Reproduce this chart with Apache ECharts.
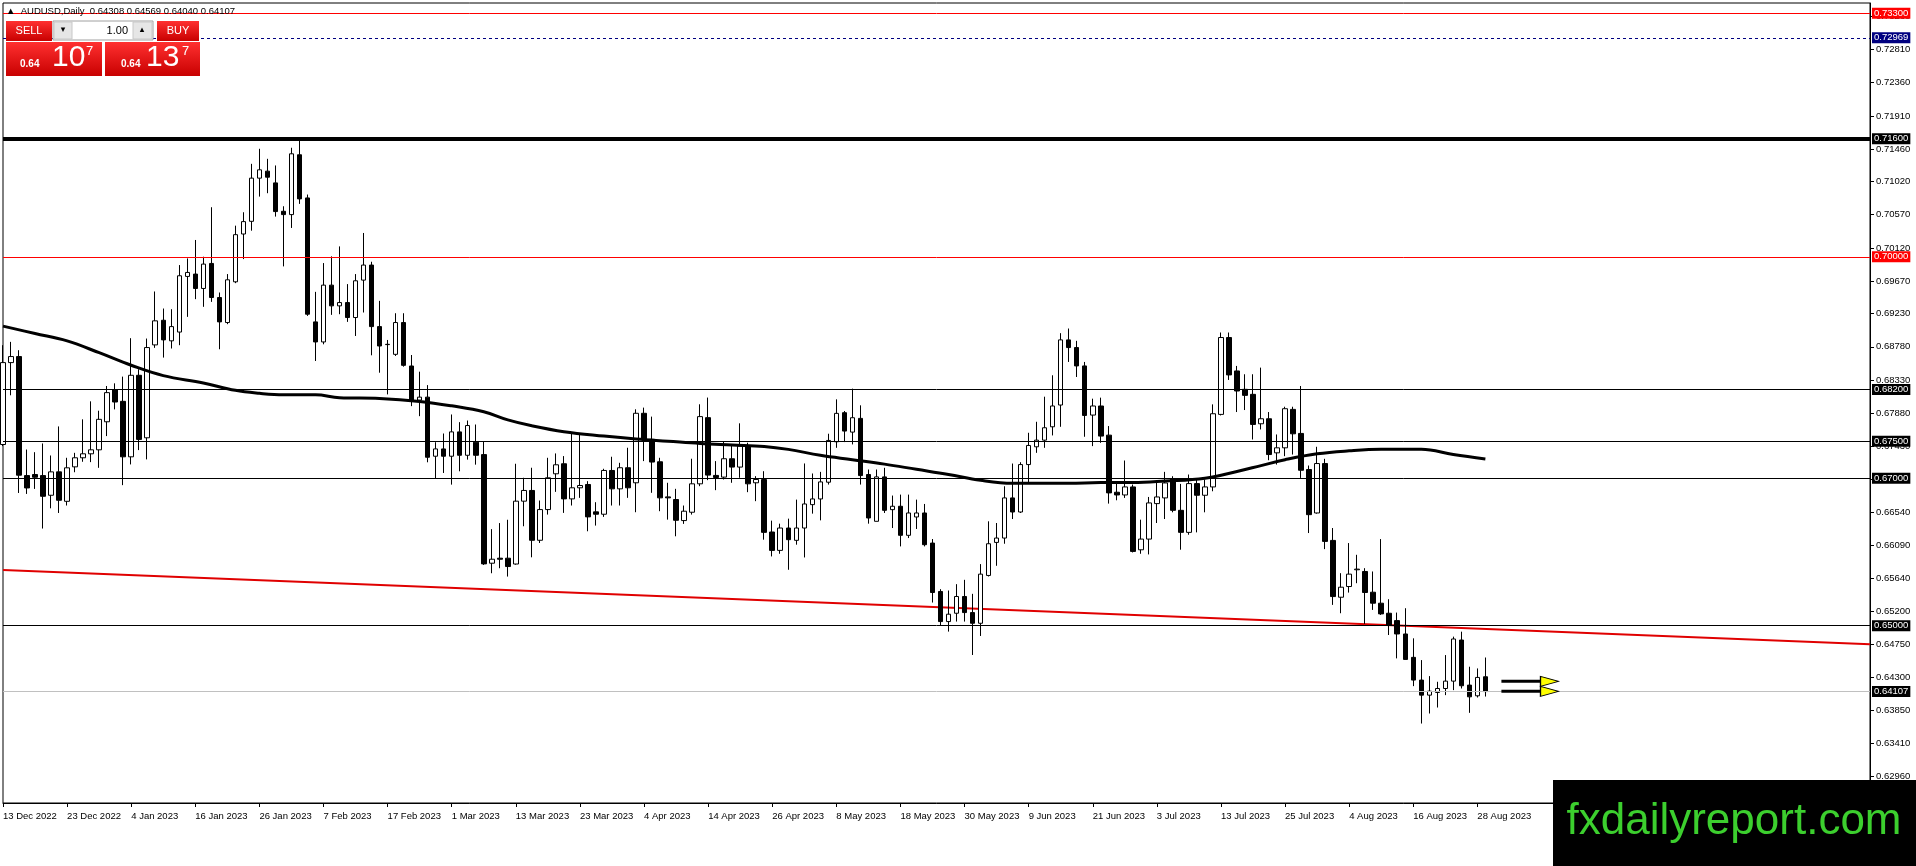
<!DOCTYPE html>
<html><head><meta charset="utf-8">
<script src="https://cdn.jsdelivr.net/npm/echarts@6/dist/echarts.min.js"></script>
<style>html,body{margin:0;padding:0;background:#fff}#c{width:1916px;height:866px}</style>
</head><body><div id="c"></div>
<script>
// ---- DATA ----
const symbolName = 'AUDUSD,Daily';
const firstDate = '2022-12-13';
const barCount = 186;
const totalSlots = 234;
const opens = [0.67456,0.68566,0.68648,0.67035,0.67049,0.67035,0.66768,0.67085,0.66686,0.67153,0.67276,0.67330,0.67384,0.67764,0.68195,0.68041,0.67289,0.68394,0.67547,0.68806,0.69140,0.68861,0.68980,0.69734,0.69766,0.69571,0.69910,0.69448,0.69109,0.69661,0.70309,0.70481,0.71066,0.71161,0.71002,0.70617,0.70572,0.71383,0.70798,0.69118,0.68846,0.69616,0.69335,0.69380,0.69177,0.69684,0.69888,0.69054,0.68814,0.68678,0.69109,0.68520,0.68058,0.68098,0.67297,0.67396,0.67297,0.67627,0.67310,0.67487,0.67319,0.65847,0.65915,0.65915,0.65836,0.66688,0.66833,0.66158,0.66574,0.67059,0.67195,0.66719,0.66869,0.66914,0.66543,0.66511,0.67104,0.66855,0.67141,0.66937,0.67879,0.67526,0.67222,0.66746,0.66710,0.66425,0.66538,0.66923,0.67820,0.67037,0.67014,0.67263,0.67150,0.67435,0.66937,0.66981,0.66270,0.66021,0.66324,0.66157,0.66324,0.66641,0.66718,0.66945,0.67493,0.67887,0.67624,0.67810,0.67049,0.66415,0.67017,0.66573,0.66619,0.66225,0.66474,0.66528,0.66120,0.65464,0.65056,0.65169,0.65396,0.65178,0.65033,0.65681,0.66129,0.66188,0.66732,0.66541,0.67184,0.67425,0.67515,0.67696,0.67991,0.68874,0.68770,0.68521,0.67855,0.67978,0.67583,0.66809,0.66772,0.66881,0.66029,0.66174,0.66655,0.66732,0.66990,0.66564,0.66265,0.66926,0.66768,0.66881,0.67864,0.68906,0.68453,0.68204,0.68136,0.67737,0.67805,0.67343,0.67411,0.67932,0.67606,0.67117,0.66528,0.67198,0.66156,0.65386,0.65531,0.65758,0.65735,0.65454,0.65305,0.65169,0.65069,0.64888,0.64571,0.64263,0.64059,0.64095,0.64149,0.64249,0.64806,0.64195,0.64050,0.64308];
const closes = [0.68566,0.68648,0.67040,0.66867,0.67012,0.66754,0.67085,0.66700,0.67140,0.67276,0.67330,0.67384,0.67797,0.68159,0.68032,0.67289,0.68394,0.67525,0.68770,0.69132,0.68874,0.69054,0.69743,0.69788,0.69571,0.69901,0.69448,0.69118,0.69688,0.70300,0.70477,0.71066,0.71179,0.71079,0.70613,0.70572,0.71396,0.70785,0.69222,0.68846,0.69616,0.69335,0.69380,0.69177,0.69675,0.69888,0.69054,0.68791,0.68810,0.69109,0.68529,0.68044,0.68098,0.67283,0.67396,0.67297,0.67627,0.67310,0.67713,0.67310,0.65838,0.65901,0.65901,0.65802,0.66688,0.66833,0.66158,0.66574,0.67005,0.67181,0.66719,0.66869,0.66900,0.66475,0.66511,0.67104,0.66855,0.67141,0.66869,0.67879,0.67526,0.67218,0.66733,0.66733,0.66429,0.66552,0.66923,0.67834,0.67041,0.67009,0.67263,0.67150,0.67435,0.66923,0.66982,0.66265,0.66021,0.66324,0.66166,0.66324,0.66650,0.66718,0.66949,0.67511,0.67878,0.67638,0.67819,0.67035,0.66460,0.67017,0.66564,0.66619,0.66225,0.66528,0.66528,0.66098,0.65450,0.65056,0.65156,0.65396,0.65178,0.65033,0.65699,0.66111,0.66188,0.66732,0.66541,0.67184,0.67443,0.67515,0.67683,0.67978,0.68874,0.68770,0.68521,0.67850,0.67978,0.67570,0.66800,0.66772,0.66881,0.66007,0.66174,0.66664,0.66745,0.66935,0.66564,0.66265,0.66926,0.66768,0.66881,0.67873,0.68906,0.68399,0.68181,0.68122,0.67728,0.67805,0.67320,0.67411,0.67941,0.67601,0.67107,0.66505,0.67198,0.66143,0.65395,0.65522,0.65699,0.65767,0.65450,0.65305,0.65160,0.65010,0.64888,0.64543,0.64263,0.64059,0.64113,0.64149,0.64249,0.64820,0.64186,0.64036,0.64299,0.64107];
const lows = [0.67434,0.68123,0.66799,0.66786,0.66854,0.66317,0.66591,0.66528,0.66629,0.67080,0.67222,0.67217,0.67140,0.67570,0.67932,0.66905,0.67186,0.67380,0.67254,0.68766,0.68634,0.68757,0.68802,0.69186,0.69426,0.69322,0.69389,0.68747,0.69087,0.69643,0.69969,0.70354,0.70816,0.70862,0.70545,0.69870,0.70391,0.70717,0.69199,0.68588,0.68814,0.69213,0.69222,0.69118,0.68927,0.69245,0.68665,0.68429,0.68135,0.68656,0.68511,0.67976,0.67840,0.67215,0.67002,0.67070,0.66912,0.67093,0.67251,0.67183,0.65824,0.65711,0.65779,0.65666,0.65827,0.66348,0.65927,0.66121,0.66506,0.66814,0.66529,0.66629,0.66733,0.66280,0.66357,0.66475,0.66629,0.66629,0.66733,0.66538,0.67231,0.66801,0.66552,0.66438,0.66212,0.66380,0.66506,0.66891,0.66973,0.66837,0.66982,0.66937,0.67005,0.66810,0.66688,0.66166,0.65939,0.65975,0.65758,0.66098,0.65925,0.66519,0.66428,0.66913,0.67411,0.67489,0.67457,0.66913,0.66383,0.66415,0.66528,0.66324,0.66075,0.66188,0.66311,0.66075,0.65314,0.64997,0.64920,0.65056,0.65056,0.64603,0.64861,0.65667,0.65812,0.66111,0.66446,0.66528,0.66935,0.67343,0.67411,0.67579,0.67696,0.68575,0.68371,0.67561,0.67434,0.67479,0.66655,0.66700,0.66732,0.65993,0.65975,0.65966,0.66392,0.66446,0.66537,0.66030,0.66233,0.66265,0.66537,0.66822,0.67850,0.68331,0.67896,0.67923,0.67524,0.67660,0.67243,0.67184,0.67298,0.67320,0.67003,0.66256,0.66519,0.66038,0.65282,0.65169,0.65449,0.65576,0.65024,0.65214,0.65146,0.64874,0.64557,0.64543,0.64181,0.63674,0.63810,0.63891,0.64059,0.64127,0.64149,0.63819,0.64027,0.64040];
const highs = [0.68802,0.68847,0.68734,0.67388,0.67352,0.67470,0.67307,0.67701,0.67276,0.67343,0.67797,0.68041,0.67914,0.68249,0.68285,0.68376,0.68897,0.68476,0.68892,0.69530,0.69299,0.69290,0.69888,0.69978,0.70228,0.70001,0.70672,0.69516,0.69766,0.70422,0.70604,0.71260,0.71464,0.71328,0.71238,0.70685,0.71478,0.71600,0.70844,0.69525,0.69915,0.70006,0.70141,0.69630,0.69766,0.70323,0.69933,0.69403,0.68873,0.69235,0.69235,0.68669,0.68443,0.68261,0.67487,0.67605,0.67863,0.67759,0.67781,0.67727,0.67500,0.66309,0.66391,0.66436,0.67195,0.67005,0.67141,0.66697,0.67276,0.67335,0.67299,0.67616,0.67594,0.66959,0.66674,0.67127,0.67290,0.67208,0.67412,0.67933,0.67956,0.67834,0.67276,0.66937,0.66855,0.66629,0.67263,0.68001,0.68092,0.67231,0.67503,0.67458,0.67743,0.67480,0.67027,0.67094,0.66424,0.66383,0.66451,0.66709,0.67199,0.67063,0.67085,0.67602,0.68068,0.67910,0.68213,0.67987,0.67117,0.67117,0.67140,0.66764,0.66777,0.66777,0.66709,0.66650,0.66175,0.65495,0.65477,0.65563,0.65622,0.65432,0.65835,0.66415,0.66392,0.66890,0.67198,0.67216,0.67615,0.67764,0.68104,0.68394,0.68965,0.69028,0.68861,0.68575,0.68077,0.68091,0.67706,0.66958,0.67239,0.66913,0.66437,0.66745,0.66935,0.67085,0.67026,0.66922,0.67049,0.66981,0.66981,0.68000,0.68974,0.68974,0.68521,0.68408,0.68408,0.68498,0.67896,0.67592,0.67968,0.67968,0.68249,0.67171,0.67425,0.67262,0.66324,0.65712,0.66120,0.65961,0.65780,0.65735,0.66174,0.65359,0.65178,0.65237,0.64829,0.64534,0.64317,0.64240,0.64602,0.64852,0.64919,0.64444,0.64421,0.64569];
// moving average read at sample bars
const maBars = [0,4,8,12,16,20,25,29,32,35,39,42,47,52,56,60,63,66,70,75,79,83,87,91,95,98,102,106,110,114,118,122,126,129,133,137,141,145,150,154,157,160,164,168,172,177,181,185];
const maValues = [0.6906,0.6896,0.6886,0.6870,0.6853,0.6839,0.6829,0.6819,0.6815,0.6813,0.6813,0.6809,0.6808,0.6804,0.6798,0.6790,0.6779,0.6771,0.6763,0.6757,0.6753,0.6750,0.6747,0.6745,0.6743,0.6739,0.6731,0.6725,0.6719,0.6712,0.6705,0.6697,0.6693,0.6693,0.6693,0.6694,0.6694,0.6696,0.6700,0.6709,0.6717,0.6725,0.6733,0.6737,0.6739,0.6739,0.6732,0.6726];
// red trend line
const trendBars = [0, 233];
const trendValues = [0.65755, 0.64748];
// horizontal levels
const levelPrices = [0.73300, 0.72969, 0.71600, 0.70000, 0.68200, 0.67500, 0.67000, 0.65000, 0.64107];
const levelKinds  = ['red','navy','thick','red','black','black','black','black','bid'];
// price scale tick labels
const priceTicks = [0.73260,0.72810,0.72360,0.71910,0.71460,0.71020,0.70570,0.70120,0.69670,0.69230,0.68780,0.68330,0.67880,0.67430,0.66980,0.66540,0.66090,0.65640,0.65200,0.64750,0.64300,0.63850,0.63410,0.62960];
// arrows
const arrowPrices = [0.64246, 0.64111];
const arrowFromBar = 187, arrowToBar = 193;
const bidPrice = 0.64107, askPrice = 0.64137, lotSize = '1.00';
const yMin = 0.62597, yMax = 0.73440;

// ---- BUILD ----
const MONTHS = ['Jan','Feb','Mar','Apr','May','Jun','Jul','Aug','Sep','Oct','Nov','Dec'];
const dates = [];
(function(){ const d = new Date(firstDate + 'T00:00:00Z');
  while (dates.length < totalSlots) { const w = d.getUTCDay();
    if (w !== 0 && w !== 6) dates.push(d.getUTCDate() + ' ' + MONTHS[d.getUTCMonth()] + ' ' + d.getUTCFullYear());
    d.setUTCDate(d.getUTCDate() + 1); } })();
const candles = opens.map((o, i) => [o, closes[i], lows[i], highs[i]]);
const FONT = 'Liberation Sans, Arial, sans-serif';
const kindStyle = {
  red:   {line:{color:'#ff0000', width:1, type:'solid'}, bg:'#ff0000'},
  navy:  {line:{color:'#000080', width:1, type:[3,3]}, bg:'#000080'},
  thick: {line:{color:'#000000', width:4, type:'solid'}, bg:'#000000'},
  black: {line:{color:'#000000', width:1, type:'solid'}, bg:'#000000'},
  bid:   {line:{color:'#c0c0c0', width:1, type:'solid'}, bg:'#000000'}
};
const markData = levelPrices.map((p, i) => ({
  yAxis: p,
  lineStyle: kindStyle[levelKinds[i]].line,
  label: {show:true, position:'end', distance:2, formatter: p.toFixed(5), color:'#fff',
          backgroundColor: kindStyle[levelKinds[i]].bg, padding:[1,2,0,2], fontSize:9.5, fontFamily:FONT}
}));
const showLabel = (i) => i % 8 === 0 && i < barCount;
const last = barCount - 1;
const headerText = '▲  ' + symbolName + '  ' + [opens[last], highs[last], lows[last], closes[last]].map(v => v.toFixed(5)).join(' ');
function splitPrice(p){ const s = p.toFixed(5); return {big:s.slice(0,4), mid:s.slice(4,6), pip:s.slice(6)}; }
const sp = splitPrice(bidPrice), bp = splitPrice(askPrice);
const redGrad = {type:'linear', x:0, y:0, x2:0, y2:1, colorStops:[{offset:0,color:'#ff3030'},{offset:1,color:'#c80000'}]};

const chart = echarts.init(document.getElementById('c'), null, {renderer:'canvas'});
chart.setOption({
  animation: false,
  textStyle: {fontFamily: FONT},
  grid: {left:3, top:3, right:46, bottom:63, show:true, borderColor:'#000', borderWidth:1, backgroundColor:'#fff'},
  xAxis: {type:'category', data:dates, boundaryGap:false,
    axisLine:{show:true, lineStyle:{color:'#000', width:1}},
    axisTick:{show:true, length:4, interval:showLabel, lineStyle:{color:'#000'}},
    axisLabel:{interval:showLabel, align:'left', fontSize:9.5, color:'#000', margin:8, fontFamily:FONT},
    splitLine:{show:false}},
  yAxis: {type:'value', position:'right', min:yMin, max:yMax, scale:true,
    axisLine:{show:true, onZero:false, lineStyle:{color:'#000'}},
    axisTick:{show:true, length:4, customValues:priceTicks, lineStyle:{color:'#000'}},
    axisLabel:{customValues:priceTicks, formatter:(v) => Number(v).toFixed(5), fontSize:9.5, color:'#000', margin:6, fontFamily:FONT},
    splitLine:{show:false}},
  series: [
    {type:'line', data: trendBars.map((b, i) => [b, trendValues[i]]), symbol:'none', silent:true,
     lineStyle:{color:'#e00000', width:2}, z:2},
    {type:'candlestick', data:candles, barWidth:5, silent:true,
     itemStyle:{color:'#ffffff', color0:'#000000', borderColor:'#000000', borderColor0:'#000000', borderWidth:1},
     markLine:{silent:true, precision:5, symbol:['none','none'], animation:false, data:markData}, z:3},
    {type:'line', data: maBars.map((b, i) => [b, maValues[i]]), smooth:0.4, symbol:'none', silent:true,
     lineStyle:{color:'#000', width:3}, z:4},
    {type:'line', data: [[arrowFromBar, arrowPrices[0]], [arrowToBar, arrowPrices[0]]], symbol:'none', silent:true,
     lineStyle:{color:'#000', width:3}, z:5},
    {type:'line', data: [[arrowFromBar, arrowPrices[1]], [arrowToBar, arrowPrices[1]]], symbol:'none', silent:true,
     lineStyle:{color:'#000', width:3}, z:5},
    {type:'scatter', data: arrowPrices.map(p => [arrowToBar, p]), symbol:'triangle', symbolSize:[10,18], symbolRotate:-90,
     silent:true, itemStyle:{color:'#ffff00', borderColor:'#000', borderWidth:1, opacity:1}, z:6}
  ],
  graphic: [
    {type:'text', left:6, top:6, z:100, style:{text:headerText, font:'9.5px ' + FONT, fill:'#000'}},
    // SELL button
    {type:'rect', shape:{x:6, y:21, width:46, height:20}, style:{fill:redGrad}, z:100},
    {type:'text', z:101, style:{text:'SELL', x:29, y:31, align:'center', verticalAlign:'middle', font:'11px ' + FONT, fill:'#fff'}},
    // lot control
    {type:'rect', shape:{x:53, y:21, width:100, height:19}, style:{fill:'#fff', stroke:'#a0a0a0', lineWidth:1}, z:100},
    {type:'rect', shape:{x:54, y:22, width:18, height:17}, style:{fill:'#e6e6e6', stroke:'#c8c8c8'}, z:101},
    {type:'rect', shape:{x:133, y:22, width:19, height:17}, style:{fill:'#e6e6e6', stroke:'#c8c8c8'}, z:101},
    {type:'text', z:102, style:{text:'▾', x:63, y:30, align:'center', verticalAlign:'middle', font:'9px DejaVu Sans', fill:'#000'}},
    {type:'text', z:102, style:{text:'▴', x:142, y:30, align:'center', verticalAlign:'middle', font:'9px DejaVu Sans', fill:'#000'}},
    {type:'text', z:102, style:{text:lotSize, x:128, y:31, align:'right', verticalAlign:'middle', font:'11px ' + FONT, fill:'#000'}},
    // BUY button
    {type:'rect', shape:{x:157, y:21, width:42, height:20}, style:{fill:redGrad}, z:100},
    {type:'text', z:101, style:{text:'BUY', x:178, y:31, align:'center', verticalAlign:'middle', font:'11px ' + FONT, fill:'#fff'}},
    // price boxes
    {type:'rect', shape:{x:6, y:42, width:96, height:34}, style:{fill:redGrad}, z:100},
    {type:'rect', shape:{x:105, y:42, width:95, height:34}, style:{fill:redGrad}, z:100},
    {type:'text', z:101, style:{text:sp.big, x:20, y:69, verticalAlign:'bottom', font:'bold 10px ' + FONT, fill:'#fff'}},
    {type:'text', z:101, style:{text:sp.mid, x:52, y:73, verticalAlign:'bottom', font:'30px ' + FONT, fill:'#fff'}},
    {type:'text', z:101, style:{text:sp.pip, x:86, y:45, verticalAlign:'top', font:'13px ' + FONT, fill:'#fff'}},
    {type:'text', z:101, style:{text:bp.big, x:121, y:69, verticalAlign:'bottom', font:'bold 10px ' + FONT, fill:'#fff'}},
    {type:'text', z:101, style:{text:bp.mid, x:146, y:73, verticalAlign:'bottom', font:'30px ' + FONT, fill:'#fff'}},
    {type:'text', z:101, style:{text:bp.pip, x:182, y:45, verticalAlign:'top', font:'13px ' + FONT, fill:'#fff'}},
    // watermark
    {type:'rect', shape:{x:1553, y:780, width:363, height:86}, style:{fill:'#000'}, z:110},
    {type:'text', z:111, style:{text:'fxdailyreport.com', x:1734, y:822, align:'center', verticalAlign:'middle', font:'44px ' + FONT, fill:'#3ccf2e'}}
  ]
});
</script></body></html>
